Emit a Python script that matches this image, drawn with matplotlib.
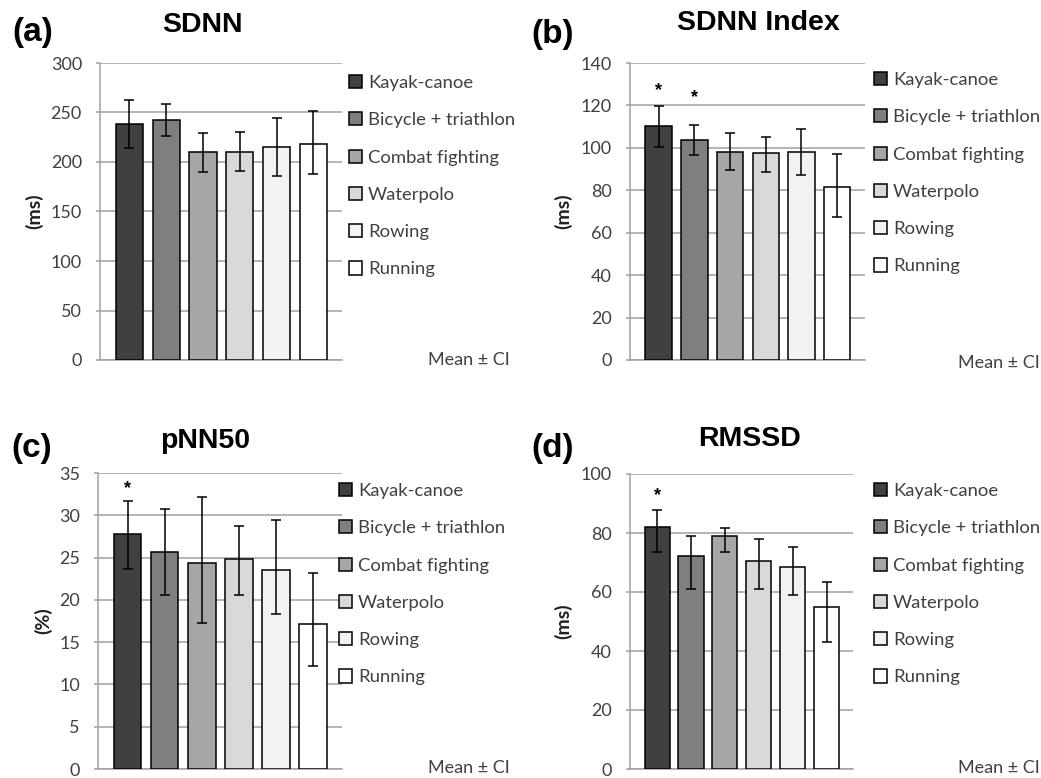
import matplotlib
matplotlib.use("Agg")
import matplotlib.pyplot as plt

W, H = 1041, 778

sports = ["Kayak-canoe", "Bicycle + triathlon", "Combat fighting",
          "Waterpolo", "Rowing", "Running"]
colors = ["#404040", "#7f7f7f", "#a6a6a6", "#d9d9d9", "#f2f2f2", "#ffffff"]

# means, lower / upper CI limits
sdnn = [238, 242, 210, 210.5, 215, 218.5]
sdnn_lo = [214.5, 226, 190, 191, 186, 187.5]
sdnn_hi = [263, 259, 229, 230.5, 244, 251.5]

sdnn_idx = [110.3, 103.9, 98.2, 97.4, 98.2, 81.6]
sdnn_idx_lo = [100.3, 96.7, 89.7, 88.8, 87, 67.4]
sdnn_idx_hi = [119.9, 110.8, 107, 105.3, 108.9, 97]

pnn50 = [27.8, 25.6, 24.3, 24.8, 23.5, 17.2]
pnn50_lo = [23.7, 20.6, 17.3, 20.6, 18.3, 12.2]
pnn50_hi = [31.7, 30.7, 32.2, 28.7, 29.5, 23.2]

rmssd = [82.2, 72.3, 78.9, 70.4, 68.6, 54.8]
rmssd_lo = [73.7, 61, 73.4, 61, 58.9, 42.9]
rmssd_hi = [87.9, 79, 81.6, 77.9, 75.3, 63.4]

# asterisks (bar index, height)
stars_b = [(0, 127.2), (1, 123.7)]
stars_c = [(0, 33.2)]
stars_d = [(0, 92.8)]

panels = [
    dict(tag="(a)", title="SDNN", ylab="(ms)", vals=sdnn, lo=sdnn_lo, hi=sdnn_hi,
         ymax=300, step=50, stars=[], box=(100, 342, 63, 360),
         title_xy=(202, 25), tag_xy=(12, 33), ylab_x=43,
         leg_xy=(349, 75), mean_xy=(510, 360)),
    dict(tag="(b)", title="SDNN Index", ylab="(ms)", vals=sdnn_idx, lo=sdnn_idx_lo,
         hi=sdnn_idx_hi, ymax=140, step=20, stars=stars_b, box=(630, 865, 63, 360),
         title_xy=(758, 23), tag_xy=(531, 34), ylab_x=572,
         leg_xy=(874, 72), mean_xy=(1040, 363)),
    dict(tag="(c)", title="pNN50", ylab="(%)", vals=pnn50, lo=pnn50_lo, hi=pnn50_hi,
         ymax=35, step=5, stars=stars_c, box=(98, 342, 473, 769),
         title_xy=(205, 441), tag_xy=(11, 449), ylab_x=52,
         leg_xy=(339, 483), mean_xy=(510, 768)),
    dict(tag="(d)", title="RMSSD", ylab="(ms)", vals=rmssd, lo=rmssd_lo, hi=rmssd_hi,
         ymax=100, step=20, stars=stars_d, box=(630, 853, 474, 769),
         title_xy=(749, 439), tag_xy=(531, 449), ylab_x=572,
         leg_xy=(874, 483), mean_xy=(1040, 768)),
]

body = ["Lato", "DejaVu Sans"]
head = ["Liberation Sans", "DejaVu Sans"]
grid_c = "#a0a0a0"
txt_c = "#404040"

fig = plt.figure(figsize=(W / 100, H / 100), dpi=100)

for p in panels:
    l, r, t, b = p["box"]
    ax = fig.add_axes([l / W, 1 - b / H, (r - l) / W, (b - t) / H])
    handles = []
    for i in range(6):
        err = [[p["vals"][i] - p["lo"][i]], [p["hi"][i] - p["vals"][i]]]
        h = ax.bar(i, p["vals"][i], width=0.74, color=colors[i], edgecolor="black",
                   linewidth=1.1, label=sports[i], zorder=3,
                   yerr=err, capsize=3.5,
                   error_kw=dict(ecolor="black", elinewidth=1.1, capthick=1.1, zorder=4))
        handles.append(h)
    for i, y in p["stars"]:
        ax.text(i, y, "*", ha="center", va="center", fontsize=13, fontweight="bold",
                family=head, zorder=5)

    ax.set_xlim(-0.8, 5.78)
    ax.set_ylim(0, p["ymax"])
    ax.set_yticks(range(0, p["ymax"] + 1, p["step"]))
    ax.set_xticks([])
    ax.yaxis.grid(True, color=grid_c, linewidth=1.1, zorder=0)
    for s in ["top", "right"]:
        ax.spines[s].set_visible(False)
    for s in ["left", "bottom"]:
        ax.spines[s].set_color(grid_c)
        ax.spines[s].set_linewidth(1.1)
        ax.spines[s].set_zorder(1)
    ax.tick_params(axis="y", direction="out", length=3, width=1.1, color=grid_c,
                   pad=10, labelsize=13, labelcolor=txt_c)
    for lab in ax.get_yticklabels():
        lab.set_family(body)

    ax.set_ylabel(p["ylab"], fontsize=14, fontweight="bold", family=body, color="#202020")
    ax.yaxis.set_label_coords((p["ylab_x"] - l) / (r - l), 0.5)

    lx, ly = p["leg_xy"]
    ax.legend(handles=handles, loc="upper left", bbox_to_anchor=(lx / W, 1 - ly / H),
              bbox_transform=fig.transFigure, frameon=False, borderpad=0,
              borderaxespad=0, handlelength=0.72, handleheight=0.72,
              handletextpad=0.3, labelspacing=1.15,
              prop=dict(family=body, size=13.3), labelcolor=txt_c)

    mx, my = p["mean_xy"]
    fig.text(mx / W, 1 - my / H, "Mean ± CI", ha="right", va="center",
             fontsize=13, family=body, color=txt_c)
    tx, ty = p["title_xy"]
    fig.text(tx / W, 1 - ty / H, p["title"], ha="center", va="center",
             fontsize=20.5, fontweight="bold", family=head)
    gx, gy = p["tag_xy"]
    fig.text(gx / W, 1 - gy / H, p["tag"], ha="left", va="center",
             fontsize=24, fontweight="bold", family=head)

fig.savefig("out.png", dpi=100, facecolor="white")
